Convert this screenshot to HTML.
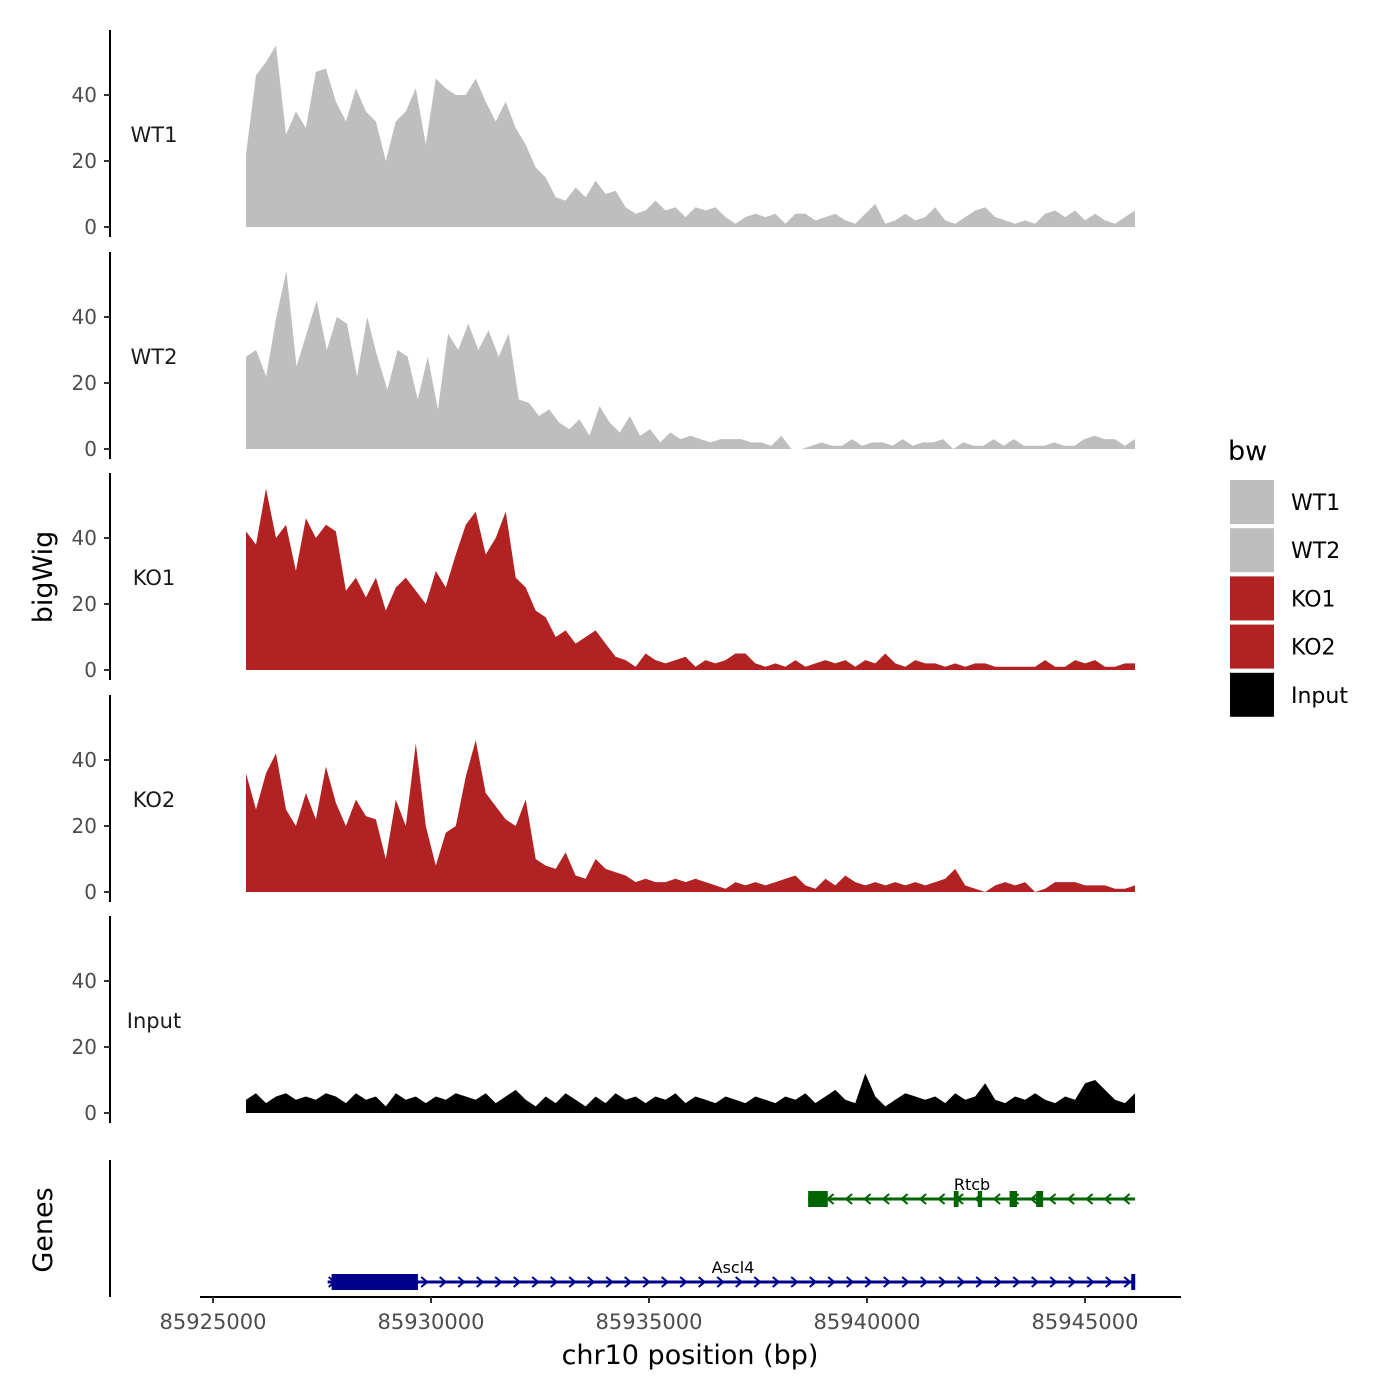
<!DOCTYPE html>
<html><head><meta charset="utf-8"><style>
body{margin:0;background:#fff}
svg{display:block;font-family:"DejaVu Sans","Liberation Sans",sans-serif}
</style></head><body>
<svg id="c" width="1400" height="1400" viewBox="0 0 1400 1400"></svg>
<script>
const trackNames=["WT1","WT2","KO1","KO2","Input"];
const trackColors=["#bebebe","#bebebe","#b22222","#b22222","#000000"];
const wt1=[22,46,50,55,28,35,30,47,48,38,32,42,35,32,20,32,35,42,25,45,42,40,40,45,38,32,38,30,25,18,15,9,8,12,9,14,10,11,6,4,5,8,5,6,3,6,5,6,3,1,3,4,3,4,1,4,4,2,3,4,2,1,4,7,1,2,4,2,3,6,2,1,3,5,6,3,2,1,2,1,4,5,3,5,2,4,2,1,3,5];
const wt2=[28,30,22,40,54,25,35,45,30,40,38,22,40,28,18,30,28,15,28,12,35,30,38,30,36,28,35,15,14,10,12,8,6,9,4,13,8,5,10,4,6,2,5,3,4,3,2,3,3,3,2,2,1,4,0,0,1,2,1,1,3,1,2,2,1,3,1,2,2,3,0,2,1,1,3,1,3,1,1,1,2,1,1,3,4,3,3,1,3];
const ko1=[42,38,55,40,44,30,46,40,44,42,24,28,22,28,18,25,28,24,20,30,25,35,44,48,35,40,48,28,25,18,16,10,12,8,10,12,8,4,3,1,5,3,2,3,4,1,3,2,3,5,5,2,1,2,1,3,1,2,3,2,3,1,3,2,5,2,1,3,2,2,1,2,1,2,2,1,1,1,1,1,3,1,1,3,2,3,1,1,2,2];
const ko2=[36,25,36,42,25,20,30,22,38,27,20,28,23,22,10,28,20,45,20,8,18,20,35,46,30,26,22,20,28,10,8,7,12,5,4,10,7,6,5,3,4,3,3,4,3,4,3,2,1,3,2,3,2,3,4,5,2,1,4,2,5,3,2,3,2,3,2,3,2,3,4,7,2,1,0,2,3,2,3,0,1,3,3,3,2,2,2,1,1,2];
const inputT=[4,6,3,5,6,4,5,4,6,5,3,6,4,5,2,6,4,5,3,5,4,6,5,4,6,3,5,7,4,2,5,3,6,4,2,5,3,6,4,5,3,5,4,6,3,5,4,3,5,4,3,5,4,3,5,4,6,3,5,7,4,3,12,5,2,4,6,5,4,5,3,6,4,5,9,4,3,5,4,6,4,3,5,4,9,10,7,4,3,6];
const tracks=[wt1,wt2,ko1,ko2,inputT];
const yTicks=[0,20,40];
const xTicks=[85925000,85930000,85935000,85940000,85945000];
const xTickLabels=["85925000","85930000","85935000","85940000","85945000"];
const dataStart=85925757, dataEnd=85946147;
const genes=["Ascl4","Rtcb"];
const geneStart=[85927630,85938650];
const geneEnd=[85946150,85946150];
const geneStrand=[1,-1];
const geneExons=[[[85927720,85929700],[85946060,85946150]],[[85938650,85939100],[85941990,85942100],[85942540,85942640],[85943270,85943440],[85943880,85944040]]];
const geneColors=["#00008b","#006400"];
const legendLabels=["WT1","WT2","KO1","KO2","Input"];

const NS="http://www.w3.org/2000/svg";
const svg=document.getElementById('c');
function el(t,a,p){const e=document.createElementNS(NS,t);for(const k in a)e.setAttribute(k,a[k]);(p||svg).appendChild(e);return e;}
function txt(s,a,p){const e=el('text',a,p);e.textContent=s;return e;}
const X=bp=>213+(bp-85925000)*0.0436;
const zeroY=[227,449,670,892,1113];
const Y=(i,v)=>zeroY[i]-v*3.3;

tracks.forEach((vals,i)=>{
  const g=el('g',{});
  
  
  const step=(dataEnd-dataStart)/(vals.length-1);
  let d='M'+X(dataStart)+','+Y(i,0);
  vals.forEach((v,j)=>{d+=' L'+X(dataStart+j*step).toFixed(1)+','+Y(i,v).toFixed(1);});
  d+=' L'+X(dataEnd)+','+Y(i,0)+' Z';
  const a=el('path',{d:d,fill:trackColors[i]},g);
  
  
  const ax=el('line',{x1:110,x2:110,y1:zeroY[i]-197,y2:zeroY[i]+10,stroke:'#000','stroke-width':2},g);
  
  
  yTicks.forEach(t=>{
    el('line',{x1:104,x2:110,y1:Y(i,t),y2:Y(i,t),stroke:'#333','stroke-width':2},g);
    const l=txt(String(t),{x:97,y:Y(i,t)+7,'text-anchor':'end','font-size':20,fill:'#4d4d4d'},g);
    
    
  });
  const tl=txt(trackNames[i],{x:154,y:zeroY[i]-85,'text-anchor':'middle','font-size':21,fill:'#1a1a1a'},g);
  
  
});

const yt=txt('bigWig',{transform:'translate(52,577) rotate(-90)','text-anchor':'middle','font-size':27,fill:'#000'});


const gt=txt('Genes',{transform:'translate(52,1230) rotate(-90)','text-anchor':'middle','font-size':27,fill:'#000'});


el('line',{x1:110,x2:110,y1:1160,y2:1297,stroke:'#000','stroke-width':2});

const geneY=[1282,1199];
genes.forEach((n,i)=>{
  const g=el('g',{});
  
  
  const c=geneColors[i],y=geneY[i];
  el('line',{x1:X(geneStart[i]),x2:X(geneEnd[i]),y1:y,y2:y,stroke:c,'stroke-width':3},g);
  for(let x=X(geneStart[i])+4;x<X(geneEnd[i])-4;x+=18.5){
    const s=geneStrand[i];
    el('path',{d:`M${x-3*s},${y-5} L${x+3*s},${y} L${x-3*s},${y+5}`,fill:'none',stroke:c,'stroke-width':2},g);
  }
  geneExons[i].forEach(e=>{el('rect',{x:X(e[0]),y:y-8,width:Math.max(4,X(e[1])-X(e[0])),height:16,fill:c},g);});
  const lb=txt(n,{x:i==0?733:972,y:y-9,'text-anchor':'middle','font-size':16,fill:'#000'},g);
  
  
});

const xa=el('g',{});


el('line',{x1:200,x2:1181,y1:1297,y2:1297,stroke:'#000','stroke-width':2},xa);
xTicks.forEach((t,j)=>{
  el('line',{x1:X(t),x2:X(t),y1:1297,y2:1303,stroke:'#333','stroke-width':2},xa);
  const l=txt(xTickLabels[j],{x:X(t),y:1329,'text-anchor':'middle','font-size':21,fill:'#4d4d4d'},xa);
  
  
});
const xt=txt('chr10 position (bp)',{x:690,y:1364,'text-anchor':'middle','font-size':27,fill:'#000'});



const lg=el('g',{});


txt('bw',{x:1228,y:460,'font-size':27,fill:'#000'},lg);
legendLabels.forEach((n,j)=>{
  const y=480+j*48.2;
  const e=el('g',{},lg);
  
  
  el('rect',{x:1230,y:y,width:44,height:44,fill:trackColors[j]},e);
  txt(n,{x:1291,y:y+30,'font-size':22,fill:'#000'},e);
});
</script>
</body></html>
